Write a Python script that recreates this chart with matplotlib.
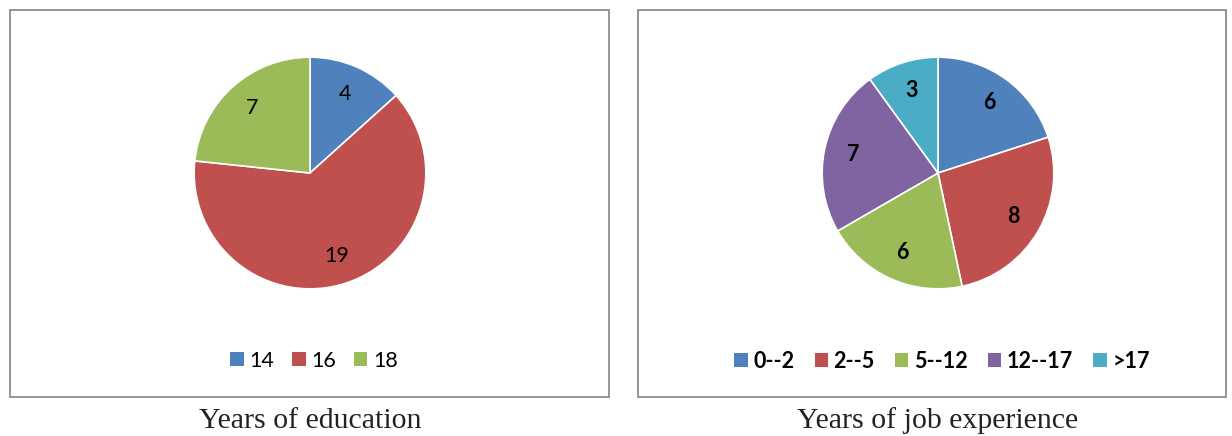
import matplotlib
matplotlib.use("Agg")
import matplotlib.pyplot as plt
from matplotlib.patches import Rectangle, Patch

edu_labels = ["14", "16", "18"]
edu_values = [4, 19, 7]
exp_labels = ["0--2", "2--5", "5--12", "12--17", ">17"]
exp_values = [6, 8, 6, 7, 3]
colors = ["#4F81BD", "#C0504D", "#9BBB59", "#8064A2", "#4BACC6"]

W, H = 1232, 436
fig = plt.figure(figsize=(W / 100, H / 100), dpi=100)
fig.patch.set_facecolor("white")

def fx(px):
    return px / W

def fy(py):
    return 1 - py / H

# panel borders
for x0, x1 in [(10, 609), (638, 1226)]:
    fig.add_artist(Rectangle((fx(x0), fy(397)), fx(x1 - x0), (397 - 10) / H,
                             transform=fig.transFigure, fill=False,
                             edgecolor="#8c8c8c", linewidth=1.3))

R = 117

def draw_pie(cx, cy, values, labels, ncolors, bold, legend_x, legend_y, caption, colsp):
    ax = fig.add_axes([fx(cx - R), fy(cy + R), fx(2 * R), 2 * R / H])
    wedges, texts = ax.pie(values, colors=colors[:ncolors], startangle=90,
                           counterclock=False, labels=[str(v) for v in values],
                           labeldistance=0.75,
                           wedgeprops=dict(edgecolor="white", linewidth=1.2),
                           textprops=dict(fontsize=15.5, family="Lato",
                                          fontweight="bold" if bold else "normal",
                                          ha="center", va="center"))
    ax.set_xlim(-1.01, 1.01)
    ax.set_ylim(-1.01, 1.01)
    ax.set_aspect("equal")
    handles = [Patch(facecolor=colors[i], edgecolor="none") for i in range(ncolors)]
    fig.legend(handles, labels, loc="center", bbox_to_anchor=(fx(legend_x), fy(legend_y)),
               ncol=ncolors, frameon=False, handlelength=0.62, handleheight=0.62,
               handletextpad=0.25, columnspacing=colsp,
               prop=dict(family="Lato", size=15.5, weight="bold" if bold else "normal"))
    fig.text(fx(cx), fy(421), caption, ha="center", va="center",
             family="Liberation Serif", fontsize=21.5, color="#222222")

draw_pie(310, 173, edu_values, edu_labels, 3, False, 314, 361, "Years of education", 0.85)
draw_pie(938, 173, exp_values, exp_labels, 5, True, 942, 361, "Years of job experience", 0.95)

fig.savefig("out.png", dpi=100)
